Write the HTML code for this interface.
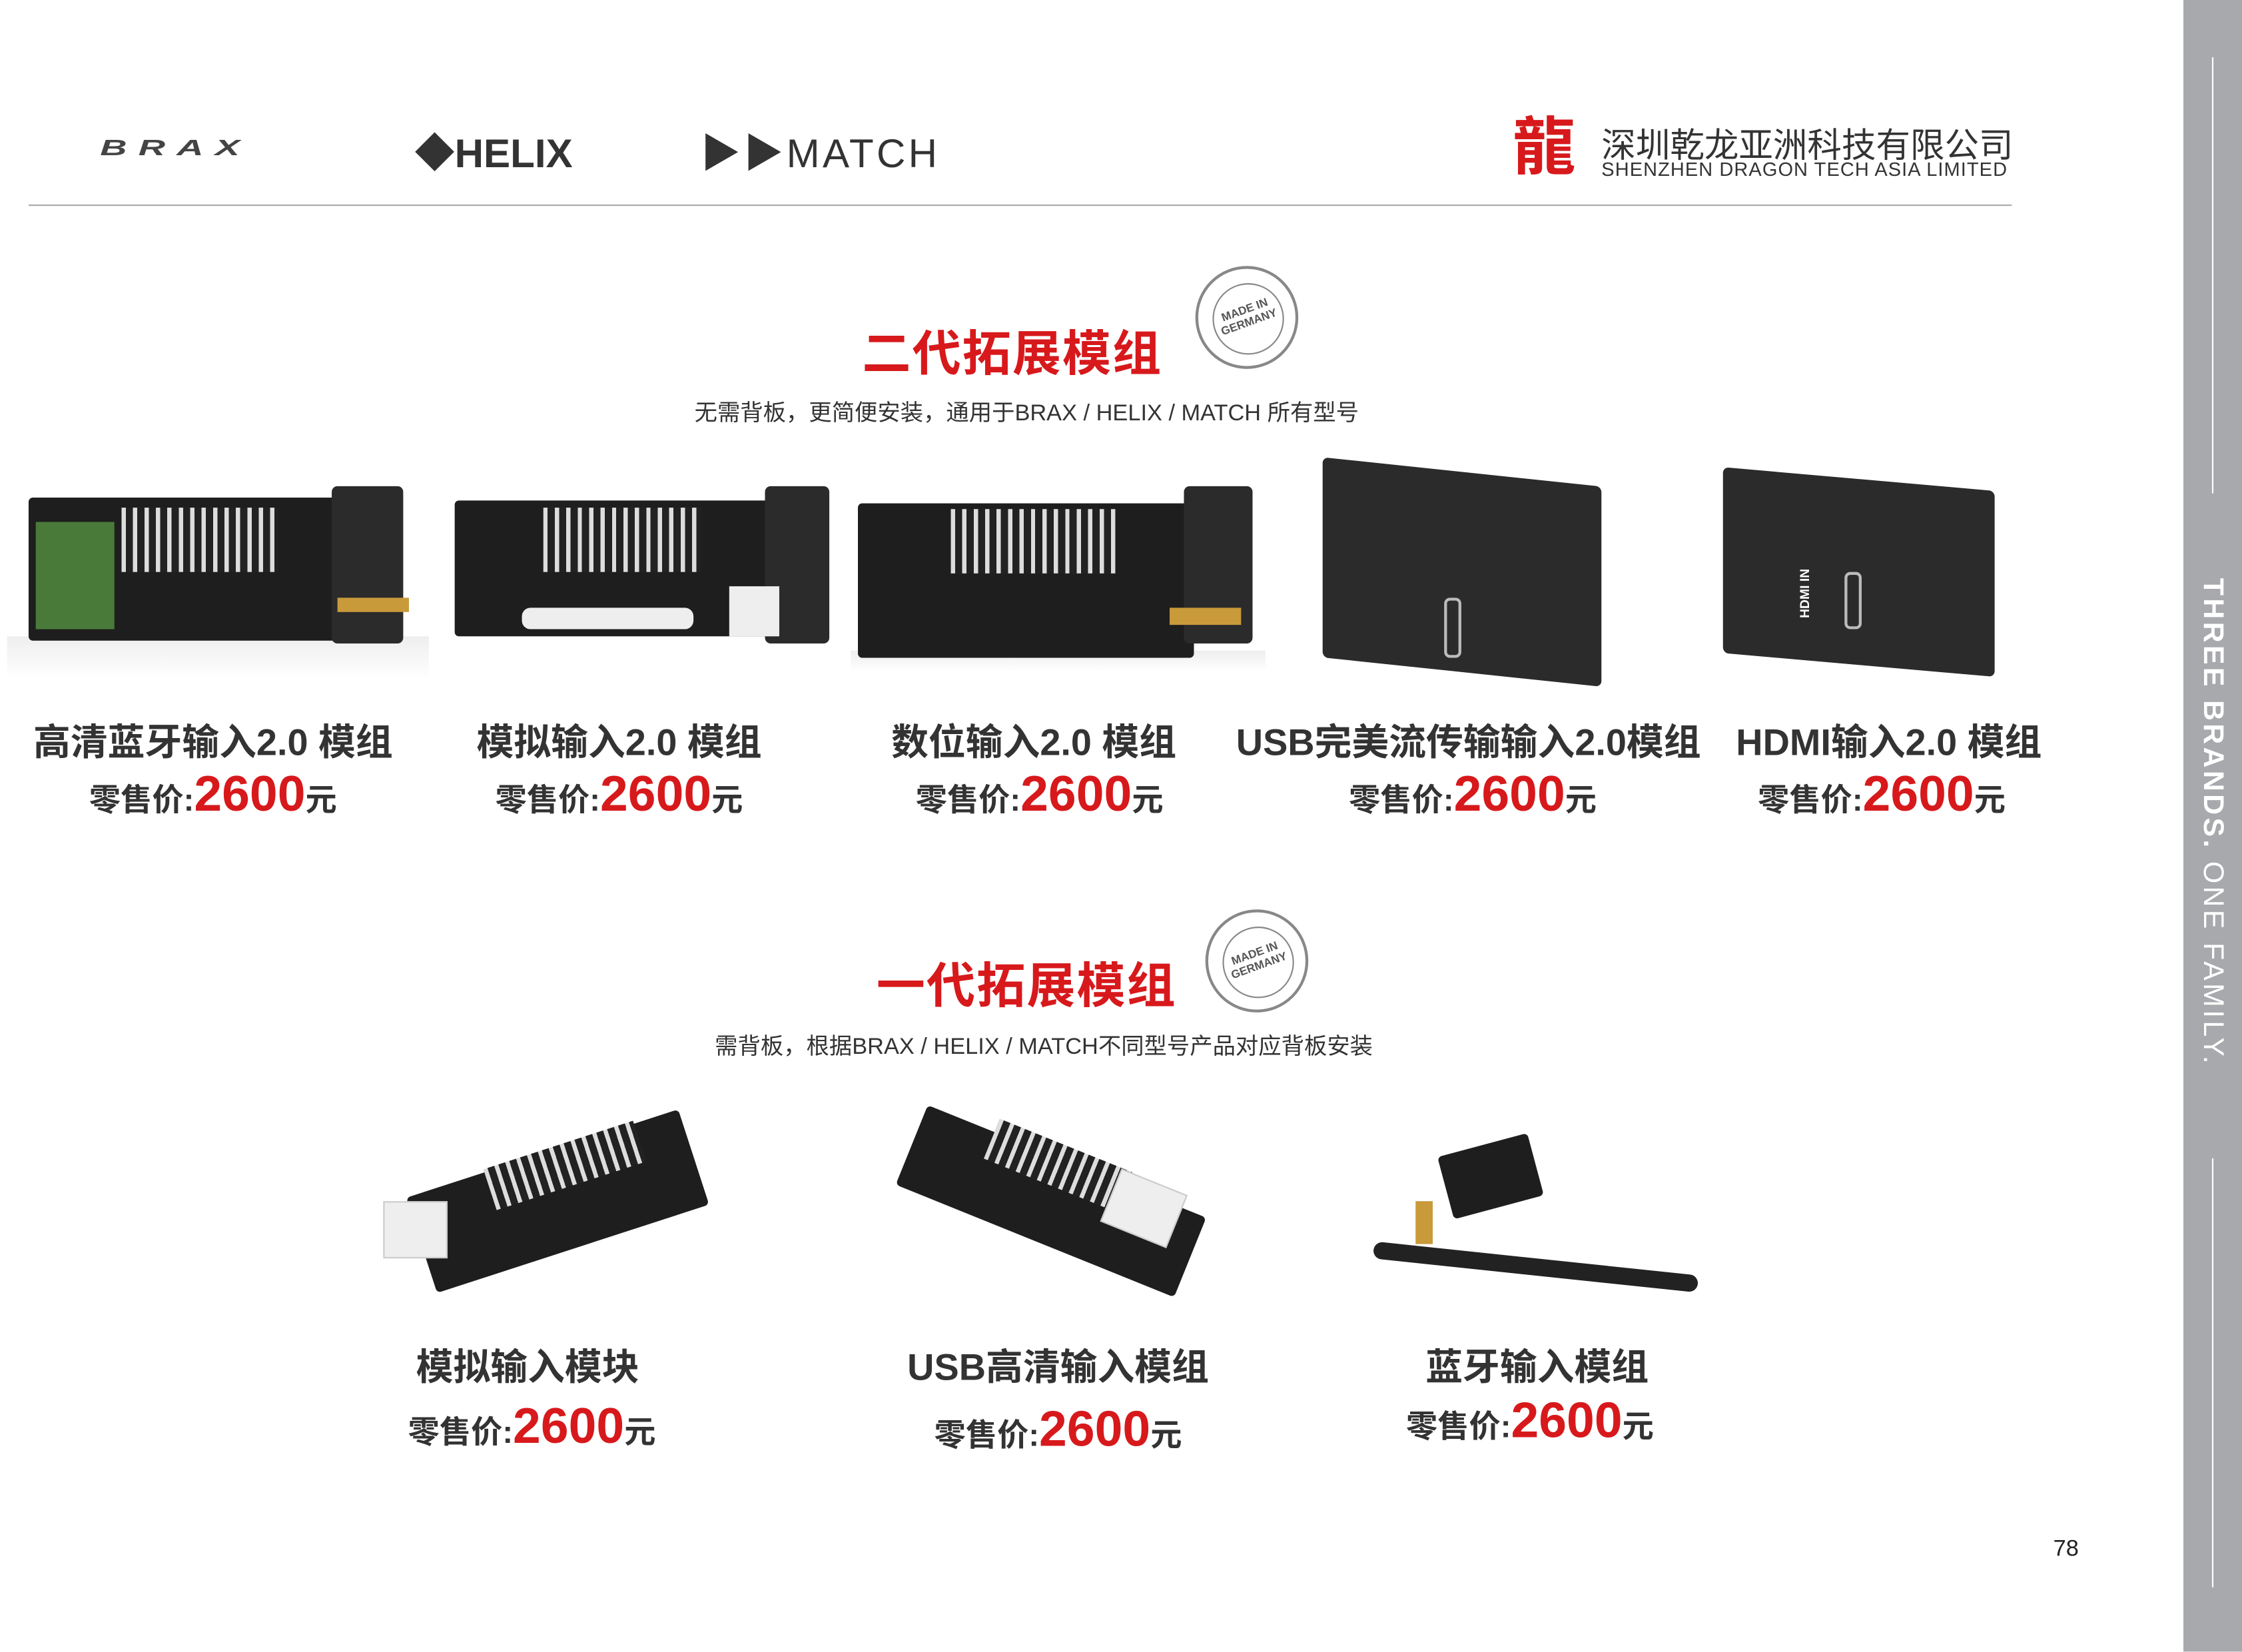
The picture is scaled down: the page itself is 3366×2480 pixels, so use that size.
<!DOCTYPE html>
<html><head><meta charset="utf-8"><style>
*{margin:0;padding:0;box-sizing:border-box}
body{width:3366px;height:2480px;background:#fff;overflow:hidden;font-family:"Liberation Sans","Noto Sans CJK SC",sans-serif}
#s{position:absolute;left:0;top:0;width:1568px;height:1155px;transform:scale(2.1467);transform-origin:0 0}
.a{position:absolute}
.t{position:absolute;white-space:nowrap;transform:translateX(-50%)}
.name{font-size:26px;font-weight:bold;color:#333}
.price{font-size:22px;font-weight:bold;color:#333}
.price b{font-size:35px;color:#d7191c}
.title{font-size:34px;font-weight:bold;color:#d7191c;letter-spacing:1px}
.sub{font-size:16px;color:#333}
.badge{position:absolute;width:72px;height:72px;border-radius:50%;border:2px solid #888;background:#fff}
.badge:after{content:"";position:absolute;left:10px;top:10px;width:48px;height:48px;border-radius:50%;border:1px solid #888}
.badge span{position:absolute;left:0;width:68px;top:24px;text-align:center;font-size:8px;font-weight:bold;color:#555;transform:rotate(-20deg);line-height:9px}
.pcb{position:absolute;background:#1e1e1e;border-radius:3px}
.pins{position:absolute;background:repeating-linear-gradient(90deg,#ddd 0 3px,#222 3px 8px)}
.cube{position:absolute;background:#2b2b2b;border-radius:4px}
</style></head><body><div id="s">
<div class="a" style="left:1527px;top:0;width:41px;height:1155px;background:#a7a9ac"></div>
<div class="a" style="left:1547px;top:40px;width:1px;height:305px;background:#fff"></div>
<div class="a" style="left:1547px;top:810px;width:1px;height:300px;background:#fff"></div>
<div class="a" style="left:1547px;top:575px;color:#fff;font-size:20px;letter-spacing:2px;white-space:nowrap;transform:translate(-50%,-50%) rotate(90deg)"><b>THREE BRANDS.</b> ONE FAMILY.</div>
<div class="a" style="left:70px;top:88px;font-size:26px;font-style:italic;font-weight:bold;color:#444;letter-spacing:8px;transform:scaleY(.6)">BRAX</div>
<div class="a" style="left:290px;top:86px;font-size:28px;font-weight:900;color:#333">◆HELIX</div>
<div class="a" style="left:490px;top:86px;font-size:28px;color:#333;letter-spacing:2px">▶▶MATCH</div>
<div class="a" style="left:1058px;top:80px;font-size:44px;color:#d7191c;font-weight:bold;line-height:48px">龍</div>
<div class="a" style="left:1120px;top:82px;font-size:24px;color:#333">深圳乾龙亚洲科技有限公司</div>
<div class="a" style="left:1120px;top:111px;font-size:13.5px;color:#333;letter-spacing:.5px">SHENZHEN DRAGON TECH ASIA LIMITED</div>
<div class="a" style="left:20px;top:143px;width:1387px;height:1px;background:#aaa"></div>
<div class="t title" style="left:708px;top:220px">二代拓展模组</div>
<div class="badge" style="left:836px;top:186px"><span>MADE IN<br>GERMANY</span></div>
<div class="t sub" style="left:718px;top:275px">无需背板，更简便安装，通用于BRAX / HELIX / MATCH 所有型号</div>
<div class="a" style="left:5px;top:445px;width:295px;height:30px;background:linear-gradient(#eee,#fff)"></div>
<div class="pcb" style="left:20px;top:348px;width:220px;height:100px"></div>
<div class="a" style="left:25px;top:365px;width:55px;height:75px;background:#4a7a3a"></div>
<div class="pins" style="left:85px;top:355px;width:110px;height:45px"></div>
<div class="cube" style="left:232px;top:340px;width:50px;height:110px"></div>
<div class="a" style="left:236px;top:418px;width:50px;height:10px;background:#c89a3a"></div>
<div class="pcb" style="left:318px;top:350px;width:225px;height:95px"></div>
<div class="pins" style="left:380px;top:355px;width:110px;height:45px"></div>
<div class="a" style="left:365px;top:425px;width:120px;height:15px;background:#eee;border-radius:6px"></div>
<div class="cube" style="left:535px;top:340px;width:45px;height:110px"></div>
<div class="a" style="left:510px;top:410px;width:35px;height:35px;background:#eee"></div>
<div class="a" style="left:595px;top:455px;width:290px;height:15px;background:linear-gradient(#eee,#fff)"></div>
<div class="pcb" style="left:600px;top:352px;width:235px;height:108px"></div>
<div class="pins" style="left:665px;top:356px;width:115px;height:45px"></div>
<div class="cube" style="left:828px;top:340px;width:48px;height:110px"></div>
<div class="a" style="left:818px;top:425px;width:50px;height:12px;background:#c89a3a"></div>
<div class="cube" style="left:925px;top:330px;width:195px;height:140px;transform:skewY(6deg)"></div>
<div class="a" style="left:1010px;top:418px;width:12px;height:42px;border:2px solid #bbb;border-radius:4px"></div>
<div class="cube" style="left:1205px;top:335px;width:190px;height:130px;transform:skewY(5deg)"></div>
<div class="a" style="left:1290px;top:400px;width:12px;height:40px;border:2px solid #bbb;border-radius:4px"></div>
<div class="a" style="left:1245px;top:410px;color:#fff;font-size:9px;font-weight:bold;transform:rotate(-90deg)">HDMI IN</div>
<div class="t name" style="left:149px;top:499px">高清蓝牙输入2.0 模组</div>
<div class="t name" style="left:433px;top:499px">模拟输入2.0 模组</div>
<div class="t name" style="left:723px;top:499px">数位输入2.0 模组</div>
<div class="t name" style="left:1027px;top:499px">USB完美流传输输入2.0模组</div>
<div class="t name" style="left:1321px;top:499px">HDMI输入2.0 模组</div>
<div class="t price" style="left:149px;top:536px">零售价:<b>2600</b>元</div>
<div class="t price" style="left:433px;top:536px">零售价:<b>2600</b>元</div>
<div class="t price" style="left:727px;top:536px">零售价:<b>2600</b>元</div>
<div class="t price" style="left:1030px;top:536px">零售价:<b>2600</b>元</div>
<div class="t price" style="left:1316px;top:536px">零售价:<b>2600</b>元</div>
<div class="t title" style="left:718px;top:662px">一代拓展模组</div>
<div class="badge" style="left:843px;top:636px"><span>MADE IN<br>GERMANY</span></div>
<div class="t sub" style="left:730px;top:718px">需背板，根据BRAX / HELIX / MATCH不同型号产品对应背板安装</div>
<div class="pcb" style="left:290px;top:805px;width:200px;height:70px;transform:rotate(-18deg)"></div>
<div class="pins" style="left:340px;top:800px;width:110px;height:30px;transform:rotate(-18deg)"></div>
<div class="a" style="left:268px;top:840px;width:45px;height:40px;background:#eee;border:1px solid #ccc"></div>
<div class="pcb" style="left:630px;top:810px;width:210px;height:60px;transform:rotate(22deg)"></div>
<div class="pins" style="left:690px;top:800px;width:100px;height:30px;transform:rotate(22deg)"></div>
<div class="a" style="left:775px;top:825px;width:50px;height:40px;background:#eee;border:1px solid #ccc;transform:rotate(22deg)"></div>
<div class="pcb" style="left:1010px;top:800px;width:65px;height:45px;transform:rotate(-15deg)"></div>
<div class="a" style="left:960px;top:880px;width:228px;height:12px;background:#222;border-radius:6px;transform:rotate(6deg)"></div>
<div class="a" style="left:990px;top:840px;width:12px;height:30px;background:#c89a3a"></div>
<div class="t name" style="left:369px;top:936px">模拟输入模块</div>
<div class="t name" style="left:740px;top:936px">USB高清输入模组</div>
<div class="t name" style="left:1075px;top:936px">蓝牙输入模组</div>
<div class="t price" style="left:372px;top:978px">零售价:<b>2600</b>元</div>
<div class="t price" style="left:740px;top:980px">零售价:<b>2600</b>元</div>
<div class="t price" style="left:1070px;top:974px">零售价:<b>2600</b>元</div>
<div class="a" style="left:1436px;top:1075px;font-size:16px;color:#222">78</div>
</div></body></html>
